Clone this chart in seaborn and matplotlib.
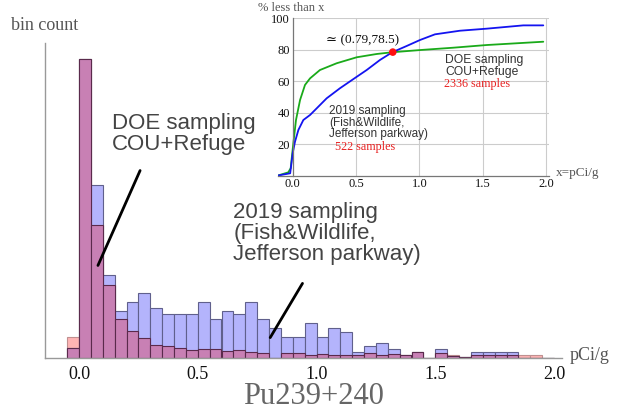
import numpy as np
import pandas as pd
import matplotlib
matplotlib.use("Agg")
import matplotlib.pyplot as plt
import matplotlib.ticker as mticker
import seaborn as sns

# --- histogram data (bin width 0.05 pCi/g, relative bin counts) ---
BIN_LEFT = np.round(np.arange(-0.05, 2.0, 0.05), 2)
BIN_WIDTH = 0.05

DOE_COUNTS = [21, 299, 133, 73, 39, 27, 20, 13, 12.5, 10.5,
              8, 9, 9, 7, 8, 6, 5, 0.5, 4.7, 4.7,
              3, 4, 3, 3, 3, 4.7, 2.7, 4, 3, 6.3,
              0, 4.7, 3, 0.7, 3.5, 3.5, 3.5, 3.5, 3.5, 3.5, 0]
FW_COUNTS = [10, 299, 173, 83, 47, 56, 65, 50, 44, 44,
             44, 56, 39, 47, 44, 56, 39, 30, 21, 21,
             35, 21, 30, 26, 6.3, 12, 15, 9, 3.3, 6,
             0, 9, 2, 1.5, 6, 6, 6, 6, 0, 0, 0]

# --- cumulative curves for inset (% less than x) ---
DOE_CDF_X = [-0.116, -0.035, -0.016, 0.005, 0.026, 0.058, 0.097, 0.137, 0.215,
             0.347, 0.505, 0.663, 0.786, 1.005, 1.268, 1.531, 1.978]
DOE_CDF_Y = [0, 2, 4.6, 20.5, 35.3, 48, 57.6, 61.8, 67.1,
             71.4, 75.2, 77.3, 78.4, 79.8, 81.3, 83, 85.1]
FW_CDF_X = [-0.116, -0.02, 0.0, 0.018, 0.045, 0.084, 0.137, 0.189, 0.268, 0.373,
            0.5, 0.584, 0.689, 0.786, 0.9, 1.005, 1.123, 1.32, 1.531, 1.82, 1.978]
FW_CDF_Y = [0, 1.4, 14.1, 21.5, 29, 35.3, 38.5, 42.7, 49.1, 55.5,
            62.5, 67.1, 73.5, 78.4, 82.4, 86.2, 89.8, 92.1, 93.4, 95.5, 95.5]
CROSS_X, CROSS_Y = 0.79, 78.5

MAIN_TICKS = [0.0, 0.5, 1.0, 1.5, 2.0]
INSET_YTICKS = [20, 40, 60, 80, 100]

SERIF = ["Liberation Serif", "DejaVu Serif"]
SANS = ["Liberation Sans", "DejaVu Sans"]

sns.set_style("white")
plt.rcParams["font.family"] = SERIF

W, H = 620, 416
fig = plt.figure(figsize=(W / 100, H / 100), dpi=100)

def frac(x0, y0, x1, y1):
    return [x0 / W, 1 - y1 / H, (x1 - x0) / W, (y1 - y0) / H]

# ---------- main histogram ----------
ax = fig.add_axes(frac(45, 43, 562, 358))
centers = BIN_LEFT + BIN_WIDTH / 2
edges = np.append(BIN_LEFT, BIN_LEFT[-1] + BIN_WIDTH).tolist()
hist = pd.DataFrame({"x": centers, "doe": DOE_COUNTS, "fw": FW_COUNTS})
hist["both"] = np.minimum(hist["doe"], hist["fw"])

sns.histplot(data=hist, x="x", weights="doe", bins=edges, color="#ffb4b4",
             alpha=1, edgecolor="#c09090", linewidth=0.8, ax=ax)
sns.histplot(data=hist, x="x", weights="fw", bins=edges, color="#b4b4fc",
             alpha=1, edgecolor="#60608c", linewidth=0.8, ax=ax)
sns.histplot(data=hist, x="x", weights="both", bins=edges, color="#c880b4",
             alpha=1, edgecolor="#5a2a4c", linewidth=0.8, ax=ax)

ax.set_xlim((45 - 79) / 237.5, (562 - 79) / 237.5)
ax.set_ylim(0, 315)
ax.set_xlabel("")
ax.set_ylabel("")
ax.set_yticks([])
ax.set_xticks(MAIN_TICKS)
ax.set_xticklabels([f"{t:.1f}" for t in MAIN_TICKS], fontsize=13)
ax.xaxis.set_minor_locator(mticker.MultipleLocator(0.1))
ax.tick_params(axis="x", which="major", direction="out", length=4,
               color="#888888", labelcolor="#111111", pad=2)
ax.tick_params(axis="x", which="minor", direction="out", length=2, color="#888888")
for side in ["top", "right"]:
    ax.spines[side].set_visible(False)
for side in ["left", "bottom"]:
    ax.spines[side].set_color("#999999")
    ax.spines[side].set_linewidth(1.0)
ax.patch.set_alpha(0)

ax.annotate("", xy=(0.075, 90), xytext=(0.262, 190),
            arrowprops=dict(arrowstyle="-", lw=2, color="black"))
ax.annotate("", xy=(0.799, 18), xytext=(0.947, 77),
            arrowprops=dict(arrowstyle="-", lw=2, color="black"))
ax.text(0.14, 224, "DOE sampling\nCOU+Refuge", family=SANS, fontsize=16,
        color="#444444", ha="left", va="center", linespacing=1.0)
ax.text(0.65, 125, "2019 sampling\n(Fish&Wildlife,\nJefferson parkway)",
        family=SANS, fontsize=16, color="#444444", ha="left", va="center",
        linespacing=1.0)

fig.text(11 / W, 1 - 26 / H, "bin count", fontsize=13, color="#555555",
         ha="left", va="center")
fig.text(570 / W, 1 - 356 / H, "pCi/g", fontsize=13, color="#555555",
         ha="left", va="center")
fig.text(313 / W, 1 - 397 / H, "Pu239+240", fontsize=22, color="#666666",
         ha="center", va="center")

# ---------- inset cumulative plot ----------
ax2 = fig.add_axes(frac(277.5, 18.3, 548.6, 175.5))
ax2.patch.set_alpha(0)
ax2.set_xlim(-0.12, 2.02)
ax2.set_ylim(0, 100)
for x in MAIN_TICKS[1:]:
    ax2.axvline(x, color="#cccccc", lw=0.8, zorder=0)
for y in INSET_YTICKS:
    ax2.axhline(y, xmin=0.12 / 2.14, color="#cccccc", lw=0.8, zorder=0)

sns.lineplot(x=DOE_CDF_X, y=DOE_CDF_Y, color="#1aaa1a", lw=1.3, sort=False,
             estimator=None, ax=ax2)
sns.lineplot(x=FW_CDF_X, y=FW_CDF_Y, color="#1414f0", lw=1.3, sort=False,
             estimator=None, ax=ax2)
sns.scatterplot(x=[CROSS_X], y=[CROSS_Y], color="#ff1010", s=30,
                edgecolor="none", zorder=5, ax=ax2)

ax2.spines["left"].set_position(("data", 0))
for side in ["top", "right"]:
    ax2.spines[side].set_visible(False)
for side in ["left", "bottom"]:
    ax2.spines[side].set_color("#777777")
    ax2.spines[side].set_linewidth(0.9)
ax2.set_xticks(MAIN_TICKS)
ax2.set_xticklabels([f"{t:.1f}" for t in MAIN_TICKS], fontsize=9)
ax2.set_yticks(INSET_YTICKS)
ax2.set_yticklabels([str(t) for t in INSET_YTICKS], fontsize=9)
ax2.xaxis.set_minor_locator(mticker.MultipleLocator(0.1))
ax2.yaxis.set_minor_locator(mticker.MultipleLocator(5))
ax2.tick_params(which="major", direction="in", length=4, color="#777777",
                labelcolor="#111111", pad=2)
ax2.tick_params(which="minor", direction="in", length=2, color="#777777")

ax2.text(0.555, 86.2, "\u2243 (0.79,78.5)", fontsize=9.5, color="#111111",
         ha="center", va="center")
ax2.text(1.202, 69.9, "DOE sampling\nCOU+Refuge", family=SANS, fontsize=8.7,
         color="#333333", ha="left", va="center", linespacing=1.0)
ax2.text(1.194, 58, "2336 samples", fontsize=8.7, color="#e82020",
         ha="left", va="center")
ax2.text(0.289, 33.6, "2019 sampling\n(Fish&Wildlife,\nJefferson parkway)",
         family=SANS, fontsize=8.5, color="#333333", ha="left", va="center",
         linespacing=0.95)
ax2.text(0.334, 18.4, "522 samples", fontsize=8.7, color="#e82020",
         ha="left", va="center")

fig.text(258 / W, 1 - 8 / H, "% less than x", fontsize=9, color="#555555",
         ha="left", va="center")
fig.text(556 / W, 1 - 173 / H, "x=pCi/g", fontsize=9.5, color="#555555",
         ha="left", va="center")

fig.savefig("out.png", dpi=100)
